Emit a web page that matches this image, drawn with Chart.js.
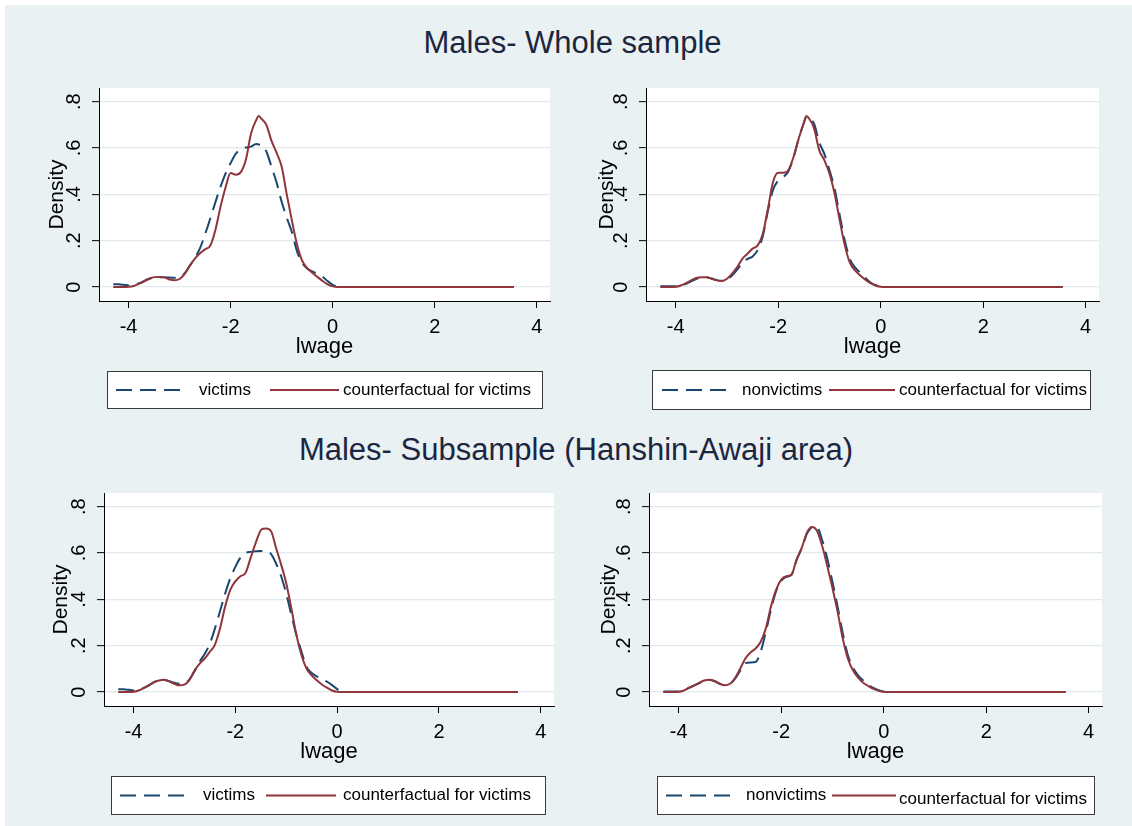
<!DOCTYPE html>
<html>
<head>
<meta charset="utf-8">
<script src="https://cdn.jsdelivr.net/npm/chart.js@4"></script>
<style>
  html, body { margin: 0; padding: 0; background: #fff; }
  #page { position: absolute; left: 5px; top: 5px; width: 1127px; height: 821px; background: #e9f1f3; }
  canvas { position: absolute; }
  .ttl { position: absolute; text-align: center; font-family: "Liberation Sans", Arial, sans-serif;
         font-size: 31px; line-height: 36px; color: #1c2640; white-space: nowrap; }
</style>
</head>
<body>
<div id="page"></div>
<div class="ttl" style="left:0; width:1145px; top:25px;">Males- Whole sample</div>
<div class="ttl" style="left:0; width:1152px; top:432px;">Males- Subsample (Hanshin-Awaji area)</div>
<script>
// evaluation points of the kernel densities (lwage)
const lwage = [-4.3, -4.2, -4.1, -4.0, -3.9, -3.8, -3.7, -3.6, -3.5, -3.4, -3.3, -3.2, -3.1, -3.0,
  -2.9, -2.8, -2.7, -2.6, -2.5, -2.4, -2.3, -2.2, -2.1, -2.0, -1.9, -1.8, -1.7, -1.6, -1.5, -1.45,
  -1.4, -1.3, -1.2, -1.1, -1.0, -0.9, -0.8, -0.7, -0.6, -0.5, -0.4, -0.3, -0.2, -0.1, 0.0, 0.1, 0.2, 3.55];

// whole sample
const p1Victims = [0.012, 0.012, 0.010, 0.007, 0.010, 0.016, 0.026, 0.036, 0.042, 0.043, 0.043, 0.041, 0.040, 0.043,
  0.060, 0.092, 0.126, 0.168, 0.228, 0.295, 0.365, 0.432, 0.490, 0.535, 0.575, 0.595, 0.602, 0.606, 0.617, 0.615,
  0.613, 0.585, 0.520, 0.452, 0.368, 0.300, 0.238, 0.155, 0.105, 0.080, 0.068, 0.057, 0.045, 0.026, 0.010, 0.002, 0, 0];
const p1Counterfactual = [0, 0, 0, 0.001, 0.005, 0.014, 0.024, 0.035, 0.043, 0.044, 0.042, 0.033, 0.030, 0.035,
  0.057, 0.093, 0.123, 0.146, 0.163, 0.178, 0.245, 0.345, 0.430, 0.492, 0.485, 0.496, 0.550, 0.663, 0.720, 0.738,
  0.727, 0.700, 0.632, 0.580, 0.520, 0.400, 0.288, 0.185, 0.115, 0.082, 0.062, 0.044, 0.027, 0.012, 0.003, 0, 0, 0];
const p2Nonvictims = [0.004, 0.004, 0.004, 0.004, 0.006, 0.014, 0.025, 0.035, 0.041, 0.042, 0.037, 0.030, 0.027, 0.033,
  0.050, 0.075, 0.105, 0.122, 0.132, 0.160, 0.220, 0.330, 0.420, 0.460, 0.475, 0.500, 0.560, 0.640, 0.708, 0.735,
  0.730, 0.705, 0.625, 0.575, 0.505, 0.425, 0.310, 0.200, 0.120, 0.085, 0.062, 0.040, 0.020, 0.008, 0.002, 0, 0, 0];
const p2Counterfactual = [0, 0, 0, 0.001, 0.007, 0.017, 0.029, 0.039, 0.043, 0.043, 0.036, 0.029, 0.026, 0.036,
  0.058, 0.086, 0.122, 0.144, 0.166, 0.180, 0.230, 0.339, 0.454, 0.493, 0.493, 0.505, 0.562, 0.641, 0.709, 0.738,
  0.728, 0.685, 0.591, 0.548, 0.490, 0.404, 0.288, 0.180, 0.104, 0.072, 0.050, 0.032, 0.017, 0.007, 0.001, 0, 0, 0];

// Hanshin-Awaji subsample
const p3Victims = [0.012, 0.012, 0.010, 0.007, 0.010, 0.018, 0.029, 0.042, 0.050, 0.052, 0.047, 0.040, 0.036, 0.038,
  0.055, 0.090, 0.132, 0.165, 0.210, 0.275, 0.350, 0.425, 0.490, 0.540, 0.580, 0.600, 0.605, 0.608, 0.609, 0.609,
  0.608, 0.596, 0.555, 0.500, 0.425, 0.333, 0.246, 0.174, 0.109, 0.082, 0.068, 0.056, 0.045, 0.030, 0.013, 0.002, 0, 0];
const p3Counterfactual = [0, 0, 0, 0.001, 0.007, 0.017, 0.029, 0.043, 0.050, 0.053, 0.046, 0.036, 0.029, 0.032,
  0.053, 0.094, 0.123, 0.145, 0.174, 0.205, 0.275, 0.369, 0.441, 0.478, 0.500, 0.514, 0.579, 0.644, 0.698, 0.705,
  0.706, 0.695, 0.622, 0.550, 0.470, 0.362, 0.246, 0.159, 0.101, 0.072, 0.051, 0.033, 0.019, 0.007, 0.001, 0, 0, 0];
const p4Nonvictims = [0.003, 0.003, 0.003, 0.003, 0.007, 0.018, 0.028, 0.039, 0.049, 0.052, 0.047, 0.036, 0.029, 0.035,
  0.058, 0.092, 0.125, 0.128, 0.130, 0.175, 0.260, 0.355, 0.435, 0.480, 0.497, 0.506, 0.570, 0.620, 0.683, 0.700,
  0.712, 0.710, 0.655, 0.575, 0.475, 0.370, 0.255, 0.160, 0.105, 0.072, 0.050, 0.032, 0.018, 0.008, 0.002, 0, 0, 0];
const p4Counterfactual = [0, 0, 0, 0.001, 0.007, 0.019, 0.029, 0.040, 0.050, 0.053, 0.048, 0.036, 0.029, 0.036,
  0.061, 0.101, 0.145, 0.171, 0.188, 0.217, 0.275, 0.369, 0.441, 0.485, 0.500, 0.506, 0.572, 0.622, 0.687, 0.705,
  0.712, 0.695, 0.630, 0.543, 0.449, 0.347, 0.232, 0.145, 0.094, 0.062, 0.040, 0.026, 0.014, 0.006, 0.001, 0, 0, 0];

const xTickValues = [-4, -2, 0, 2, 4];
const yTickValues = [0, 0.2, 0.4, 0.6, 0.8];
const yTickLabels = ['0', '.2', '.4', '.6', '.8'];

const navy = '#1a476f';
const maroon = '#90353b';
const FONT = '"Liberation Sans", Arial, sans-serif';

Chart.defaults.font.family = FONT;
Chart.defaults.color = '#000';

function points(ys) {
  return lwage.map((x, i) => ({ x: x, y: ys[i] }));
}

// white plot region
const plotBg = {
  id: 'plotBg',
  beforeDraw(chart) {
    const a = chart.chartArea, ctx = chart.ctx;
    ctx.save();
    ctx.fillStyle = '#fff';
    ctx.fillRect(a.left, a.top, a.right - a.left, a.bottom - a.top);
    ctx.restore();
  }
};

// stata style vertical tick labels
const yTickText = {
  id: 'yTickText',
  afterDraw(chart, args, opts) {
    const ys = chart.scales.y, ctx = chart.ctx;
    const x = chart.chartArea.left - opts.offset;
    ctx.save();
    ctx.font = '20px ' + FONT;
    ctx.fillStyle = '#000';
    ctx.textAlign = 'center';
    ctx.textBaseline = 'middle';
    yTickValues.forEach((v, i) => {
      ctx.save();
      ctx.translate(x, ys.getPixelForValue(v));
      ctx.rotate(-Math.PI / 2);
      ctx.fillText(yTickLabels[i], 0, 0);
      ctx.restore();
    });
    ctx.restore();
  }
};

// boxed legend under the plot
const keyBox = {
  id: 'keyBox',
  afterDraw(chart, args, opts) {
    const ctx = chart.ctx;
    const [x0, y0, x1, y1] = opts.box;
    ctx.save();
    ctx.fillStyle = '#fff';
    ctx.fillRect(x0, y0, x1 - x0, y1 - y0);
    ctx.strokeStyle = '#3a3a3a';
    ctx.lineWidth = 1;
    ctx.strokeRect(x0 + 0.5, y0 + 0.5, x1 - x0 - 1, y1 - y0 - 1);
    const cy = (y0 + y1) / 2;
    ctx.font = '17px ' + FONT;
    ctx.textBaseline = 'middle';
    chart.data.datasets.forEach((ds, i) => {
      const [s0, s1, tx, dy] = opts.items[i];
      ctx.strokeStyle = ds.borderColor;
      ctx.lineWidth = ds.borderWidth;
      ctx.setLineDash(ds.borderDash || []);
      ctx.beginPath();
      ctx.moveTo(s0, cy);
      ctx.lineTo(s1, cy);
      ctx.stroke();
      ctx.setLineDash([]);
      ctx.fillStyle = '#000';
      ctx.fillText(ds.label, tx, cy + dy);
    });
    ctx.restore();
  }
};

const panels = [
  { left: 10, top: 80, width: 550, height: 345, area: [99, 88, 550, 301], yPad: 35, xPad: 65,
    first: 'victims', a: p1Victims, b: p1Counterfactual,
    box: [107, 371, 543, 409], items: [[116, 182, 199, 0], [270, 339, 343, 0]] },
  { left: 566, top: 80, width: 550, height: 345, area: [646, 88, 1099, 301], yPad: 29, xPad: 65,
    first: 'nonvictims', a: p2Nonvictims, b: p2Counterfactual,
    box: [652, 370, 1091, 410], items: [[662, 728, 742, 0], [829, 895, 899, 0]] },
  { left: 10, top: 485, width: 550, height: 341, area: [104, 493, 554, 706], yPad: 39, xPad: 61,
    first: 'victims', a: p3Victims, b: p3Counterfactual,
    box: [111, 776, 546, 815], items: [[120, 186, 203, 0], [266, 336, 343, 0]] },
  { left: 566, top: 485, width: 550, height: 341, area: [649, 493, 1102, 706], yPad: 31, xPad: 61,
    first: 'nonvictims', a: p4Nonvictims, b: p4Counterfactual,
    box: [657, 776, 1095, 815], items: [[666, 731, 746, 0], [832, 896, 899, 4]] }
];

panels.forEach(p => {
  const cv = document.createElement('canvas');
  cv.width = p.width;
  cv.height = p.height;
  cv.style.left = p.left + 'px';
  cv.style.top = p.top + 'px';
  document.body.appendChild(cv);

  const [al, at, ar, ab] = p.area;
  const yWidth = al - p.left;
  const xHeight = p.top + p.height - ab;

  new Chart(cv.getContext('2d'), {
    type: 'line',
    data: {
      datasets: [
        { label: p.first, data: points(p.a), borderColor: navy, borderWidth: 2, borderDash: [16, 8],
          pointRadius: 0, cubicInterpolationMode: 'monotone', order: 1 },
        { label: 'counterfactual for victims', data: points(p.b), borderColor: maroon, borderWidth: 2,
          pointRadius: 0, cubicInterpolationMode: 'monotone', order: 0 }
      ]
    },
    options: {
      responsive: false,
      animation: false,
      layout: { padding: { left: 0, top: at - p.top, right: p.left + p.width - ar, bottom: 0 } },
      plugins: {
        legend: { display: false },
        tooltip: { enabled: false },
        yTickText: { offset: 25 },
        keyBox: {
          box: p.box.map((v, i) => v - (i % 2 ? p.top : p.left)),
          items: p.items.map(it => [it[0] - p.left, it[1] - p.left, it[2] - p.left, it[3]])
        }
      },
      scales: {
        x: {
          type: 'linear',
          min: -4.58,
          max: 4.26,
          afterBuildTicks: s => { s.ticks = xTickValues.map(v => ({ value: v })); },
          afterFit: s => { s.height = xHeight; },
          ticks: { font: { size: 20 }, color: '#000', padding: 7, maxRotation: 0, autoSkip: false },
          grid: { drawOnChartArea: false, drawTicks: true, tickLength: 7, tickColor: '#000', tickWidth: 1 },
          border: { display: true, color: '#000', width: 1 },
          title: { display: true, text: 'lwage', font: { size: 22 }, color: '#000',
                   padding: { top: 0, bottom: p.xPad } }
        },
        y: {
          type: 'linear',
          min: -0.06,
          max: 0.859,
          afterBuildTicks: s => { s.ticks = yTickValues.map(v => ({ value: v })); },
          afterFit: s => { s.width = yWidth; },
          ticks: { display: false },
          grid: { color: '#e1e9ec', lineWidth: 1.3, drawTicks: true, tickLength: 7, tickColor: '#000', tickWidth: 1 },
          border: { display: true, color: '#000', width: 1 },
          title: { display: true, text: 'Density', font: { size: 21 }, color: '#000',
                   padding: { top: p.yPad, bottom: 0 } }
        }
      }
    },
    plugins: [plotBg, yTickText, keyBox]
  });
});
</script>
</body>
</html>
